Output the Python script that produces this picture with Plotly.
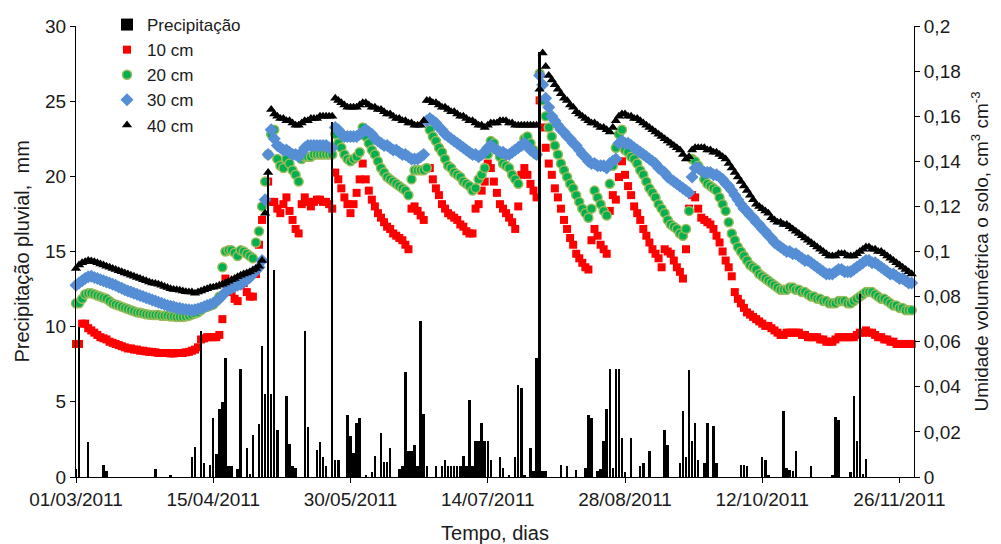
import pandas as pd
import plotly.graph_objects as go

start_date = "2011-03-01"
n_days = 275

precip = [
    0.5, 10.0, 0, 0, 2.3, 0, 0, 0, 0, 0.8,
    0.4, 0, 0, 0, 0, 0, 0, 0, 0, 0,
    0, 0, 0, 0, 0, 0, 0.5, 0, 0, 0,
    0, 0.15, 0, 0, 0, 0, 0, 0, 1.3, 2.0,
    0, 9.7, 0.9, 0, 0.8, 3.9, 1.5, 4.5, 5.0, 7.9,
    0.7, 0.7, 0, 0.5, 7.2, 0, 1.9, 0.2, 2.8, 0,
    3.5, 8.7, 5.5, 20.3, 5.5, 13.8, 3.1, 0, 0, 5.4,
    2.2, 0.7, 0.6, 0, 0, 9.7, 3.3, 0, 0, 1.8,
    2.3, 1.3, 0.7, 0, 23.6, 1.1, 1.1, 0, 0, 4.1,
    2.7, 1.6, 3.6, 3.9, 0, 0.15, 0, 0.35, 1.4, 0,
    2.9, 1.0, 1.0, 1.9, 0, 0, 0.5, 0.7, 7.0, 1.7,
    1.7, 2.1, 0.7, 10.4, 4.2, 0.7, 0, 0, 0.7, 0,
    0.7, 1.1, 0.7, 0.7, 0.7, 0.7, 0.7, 1.4, 0.7, 5.1,
    0.7, 2.4, 2.4, 3.6, 2.4, 2.4, 1.1, 0, 0, 1.3,
    0.6, 0, 0.15, 0, 1.3, 6.1, 5.9, 0.15, 0, 1.9,
    0.4, 7.9, 28.3, 0.4, 0.4, 0, 0, 0, 0, 0.8,
    0, 0.7, 0, 0, 0.45, 0, 0, 0.6, 4.1, 3.9,
    0, 0.4, 0.5, 2.4, 4.5, 7.2, 0.6, 7.2, 7.2, 2.6,
    0.3, 0, 2.6, 0, 0, 0.7, 0.9, 0, 1.7, 0,
    0, 0, 0, 3.1, 2.1, 0, 0, 0, 0.9, 4.4,
    1.3, 7.1, 2.4, 3.6, 1.1, 0, 0.9, 3.6, 0, 3.4,
    0.9, 0, 0, 0, 0, 0, 0, 0, 0.8, 0.8,
    0.7, 0, 0, 0, 0, 1.3, 1.1, 0.15, 0, 0,
    0, 0, 4.4, 0.6, 0.45, 0.4, 1.7, 0, 0, 0,
    0, 0.7, 0, 0, 0, 0, 0, 0, 0.15, 4.0,
    3.8, 0, 0, 0, 0.3, 5.4, 2.4, 12.2, 0.2, 1.2,
    0, 0, 0, 0, 0, 0, 0, 0, 0, 0,
    0, 0, 0, 0, 0,
]

cm10 = [
    0.059, 0.059, 0.068, 0.068, 0.066, 0.065, 0.064, 0.063, 0.062, 0.0615,
    0.061, 0.060, 0.0595, 0.059, 0.0585, 0.058, 0.0575, 0.057, 0.057, 0.0565,
    0.0565, 0.056, 0.056, 0.0557, 0.0555, 0.0555, 0.0553, 0.055, 0.055, 0.055,
    0.055, 0.0548, 0.0548, 0.055, 0.055, 0.055, 0.0553, 0.0555, 0.056, 0.0565,
    0.0575, 0.061, 0.0615, 0.062, 0.062, 0.062, 0.062, 0.063, 0.070, 0.088,
    0.086, 0.082, 0.079, 0.078, 0.085, 0.086, 0.082, 0.080, 0.080, 0.090,
    0.103, 0.114, 0.122, 0.131, 0.122, 0.122, 0.119, 0.117, 0.121, 0.124,
    0.118, 0.114, 0.110, 0.108, 0.121, 0.124, 0.122, 0.120, 0.122, 0.123,
    0.123, 0.122, 0.122, 0.121, 0.119, 0.135, 0.132, 0.128, 0.124, 0.121,
    0.117, 0.121, 0.126, 0.132, 0.139, 0.132, 0.127, 0.123, 0.120, 0.117,
    0.115, 0.113, 0.111, 0.110, 0.108, 0.107, 0.106, 0.105, 0.103, 0.101,
    0.119, 0.120, 0.118, 0.116, 0.114, 0.137, 0.137, 0.132, 0.128, 0.125,
    0.121, 0.119, 0.117, 0.116, 0.115, 0.114, 0.112, 0.111, 0.109, 0.108,
    0.108, 0.119, 0.121, 0.127, 0.131, 0.139, 0.137, 0.131, 0.126, 0.121,
    0.119, 0.117, 0.115, 0.113, 0.110, 0.120, 0.134, 0.137, 0.134, 0.130,
    0.127, 0.124, 0.167, 0.155, 0.146, 0.139, 0.134, 0.128, 0.124, 0.119,
    0.114, 0.110, 0.106, 0.103, 0.099, 0.097, 0.095, 0.093, 0.092, 0.105,
    0.110, 0.107, 0.103, 0.101, 0.099, 0.118, 0.125, 0.123, 0.133, 0.140,
    0.134, 0.129, 0.125, 0.120, 0.117, 0.114, 0.110, 0.107, 0.104, 0.101,
    0.099, 0.097, 0.093, 0.101, 0.100, 0.099, 0.096, 0.093, 0.091, 0.088,
    0.101, 0.119, 0.125, 0.124, 0.119, 0.115, 0.114, 0.113, 0.112, 0.110,
    0.107, 0.104, 0.100, 0.096, 0.093, 0.089, 0.082, 0.079, 0.077, 0.075,
    0.073, 0.072, 0.071, 0.070, 0.069, 0.068, 0.067, 0.067, 0.066, 0.065,
    0.064, 0.063, 0.063, 0.064, 0.064, 0.064, 0.064, 0.064, 0.063, 0.063,
    0.062, 0.062, 0.062, 0.062, 0.061, 0.061, 0.060, 0.060, 0.060, 0.061,
    0.062, 0.062, 0.062, 0.062, 0.062, 0.062, 0.063, 0.064, 0.064, 0.065,
    0.064, 0.064, 0.063, 0.062, 0.062, 0.061, 0.061, 0.060, 0.060, 0.059,
    0.059, 0.059, 0.059, 0.059, 0.059,
]

cm20 = [
    0.077, 0.077, 0.079, 0.081, 0.0815, 0.0815, 0.081, 0.0805, 0.080, 0.0795,
    0.079, 0.078, 0.077, 0.0765, 0.076, 0.0755, 0.075, 0.0745, 0.074, 0.0735,
    0.073, 0.0728, 0.0725, 0.0722, 0.072, 0.0718, 0.0718, 0.0718, 0.0715, 0.0715,
    0.0715, 0.0712, 0.0712, 0.071, 0.071, 0.071, 0.0712, 0.0715, 0.072, 0.0725,
    0.073, 0.074, 0.075, 0.0755, 0.076, 0.0765, 0.078, 0.080, 0.093, 0.100,
    0.1005, 0.1005, 0.0995, 0.098, 0.1005, 0.100, 0.099, 0.098, 0.097, 0.104,
    0.109, 0.120, 0.131, 0.143, 0.152, 0.154, 0.141, 0.138, 0.137, 0.141,
    0.139, 0.136, 0.134, 0.131, 0.141, 0.142, 0.142, 0.142, 0.143, 0.143,
    0.143, 0.143, 0.143, 0.143, 0.143, 0.152, 0.148, 0.146, 0.143, 0.141,
    0.140, 0.141, 0.142, 0.144, 0.155, 0.151, 0.148, 0.145, 0.143, 0.140,
    0.137, 0.135, 0.133, 0.132, 0.131, 0.130, 0.129, 0.128, 0.127, 0.125,
    0.132, 0.136, 0.136, 0.136, 0.136, 0.137, 0.154, 0.151, 0.149, 0.146,
    0.144, 0.141, 0.138, 0.137, 0.135, 0.134, 0.133, 0.131, 0.130, 0.129,
    0.127, 0.128, 0.132, 0.134, 0.137, 0.143, 0.149, 0.148, 0.145, 0.142,
    0.139, 0.138, 0.137, 0.134, 0.132, 0.130, 0.147, 0.150, 0.151, 0.148,
    0.145, 0.143, 0.179, 0.167, 0.160, 0.155, 0.151, 0.147, 0.143, 0.139,
    0.136, 0.133, 0.130, 0.128, 0.125, 0.122, 0.119, 0.117, 0.115, 0.119,
    0.127, 0.124, 0.121, 0.118, 0.116, 0.130, 0.138, 0.146, 0.152, 0.154,
    0.145, 0.144, 0.142, 0.141, 0.139, 0.136, 0.134, 0.131, 0.128, 0.126,
    0.124, 0.121, 0.119, 0.117, 0.114, 0.112, 0.111, 0.110, 0.108, 0.107,
    0.110, 0.118, 0.141, 0.140, 0.138, 0.136, 0.132, 0.130, 0.129, 0.128,
    0.127, 0.124, 0.121, 0.118, 0.113, 0.108, 0.105, 0.102, 0.100, 0.098,
    0.096, 0.094, 0.093, 0.092, 0.090, 0.089, 0.088, 0.087, 0.086, 0.085,
    0.084, 0.083, 0.083, 0.083, 0.084, 0.084, 0.083, 0.083, 0.082, 0.082,
    0.081, 0.080, 0.080, 0.079, 0.079, 0.078, 0.078, 0.077, 0.077, 0.077,
    0.078, 0.078, 0.078, 0.077, 0.077, 0.078, 0.079, 0.080, 0.081, 0.082,
    0.082, 0.082, 0.081, 0.080, 0.079, 0.079, 0.078, 0.077, 0.076, 0.076,
    0.075, 0.075, 0.074, 0.074, 0.074,
]

cm30 = [
    0.085, 0.086, 0.087, 0.088, 0.0888, 0.089, 0.0885, 0.088, 0.0875, 0.087,
    0.0865, 0.086, 0.0855, 0.085, 0.0843, 0.0837, 0.083, 0.0825, 0.082, 0.0815,
    0.081, 0.0805, 0.080, 0.0795, 0.079, 0.0785, 0.078, 0.0775, 0.077, 0.0765,
    0.076, 0.0757, 0.0755, 0.075, 0.0748, 0.0745, 0.0743, 0.0742, 0.074, 0.0742,
    0.0745, 0.075, 0.0755, 0.076, 0.0765, 0.077, 0.078, 0.079, 0.0805, 0.082,
    0.083, 0.0837, 0.0845, 0.085, 0.0855, 0.0865, 0.0875, 0.0885, 0.090, 0.0915,
    0.093, 0.096, 0.123, 0.143, 0.154, 0.150, 0.147, 0.146, 0.145, 0.145,
    0.144, 0.143, 0.143, 0.142, 0.144, 0.146, 0.147, 0.147, 0.147, 0.147,
    0.147, 0.147, 0.147, 0.146, 0.146, 0.155, 0.154, 0.152, 0.151, 0.151,
    0.151, 0.151, 0.151, 0.152, 0.153, 0.154, 0.153, 0.152, 0.150, 0.149,
    0.148, 0.147, 0.147, 0.146, 0.145, 0.145, 0.144, 0.143, 0.143, 0.142,
    0.141, 0.141, 0.141, 0.142, 0.143, 0.158, 0.159, 0.158, 0.157, 0.155,
    0.154, 0.152, 0.151, 0.150, 0.149, 0.148, 0.147, 0.146, 0.145, 0.144,
    0.143, 0.143, 0.142, 0.143, 0.144, 0.146, 0.147, 0.146, 0.145, 0.144,
    0.144, 0.143, 0.143, 0.144, 0.145, 0.146, 0.147, 0.148, 0.147, 0.145,
    0.144, 0.143, 0.178, 0.174, 0.168, 0.164, 0.160, 0.158, 0.156, 0.154,
    0.153, 0.151, 0.150, 0.148, 0.147, 0.145, 0.143, 0.142, 0.140, 0.139,
    0.139, 0.138, 0.138, 0.138, 0.137, 0.139, 0.140, 0.141, 0.148, 0.149,
    0.148, 0.148, 0.147, 0.146, 0.145, 0.144, 0.143, 0.142, 0.141, 0.140,
    0.139, 0.137, 0.136, 0.135, 0.133, 0.132, 0.131, 0.130, 0.129, 0.128,
    0.127, 0.126, 0.133, 0.137, 0.137, 0.136, 0.135, 0.135, 0.135, 0.134,
    0.134, 0.133, 0.132, 0.130, 0.129, 0.127, 0.125, 0.123, 0.121, 0.119,
    0.118, 0.116, 0.115, 0.113, 0.112, 0.110, 0.109, 0.107, 0.106, 0.104,
    0.103, 0.102, 0.101, 0.100, 0.100, 0.099, 0.099, 0.098, 0.097, 0.096,
    0.096, 0.095, 0.094, 0.093, 0.092, 0.091, 0.090, 0.090, 0.090, 0.091,
    0.092, 0.092, 0.091, 0.091, 0.091, 0.092, 0.093, 0.094, 0.095, 0.096,
    0.096, 0.095, 0.095, 0.094, 0.093, 0.092, 0.091, 0.090, 0.090, 0.089,
    0.088, 0.088, 0.087, 0.086, 0.086,
]

cm40 = [
    0.0925, 0.094, 0.095, 0.0955, 0.096, 0.0958, 0.0955, 0.095, 0.0945, 0.094,
    0.0935, 0.093, 0.0925, 0.092, 0.0915, 0.091, 0.0905, 0.090, 0.0895, 0.089,
    0.0885, 0.088, 0.0875, 0.087, 0.0865, 0.086, 0.0858, 0.0855, 0.085, 0.0845,
    0.084, 0.0835, 0.0832, 0.083, 0.0828, 0.0825, 0.0822, 0.082, 0.082, 0.0815,
    0.082, 0.0825, 0.083, 0.0835, 0.084, 0.0842, 0.0845, 0.085, 0.0855, 0.086,
    0.0868, 0.0875, 0.088, 0.0888, 0.0895, 0.090, 0.0905, 0.091, 0.0918, 0.0925,
    0.0935, 0.096, 0.117, 0.135, 0.163, 0.161, 0.160, 0.159, 0.159, 0.158,
    0.158, 0.157, 0.156, 0.156, 0.157, 0.158, 0.158, 0.159, 0.159, 0.159,
    0.160, 0.160, 0.160, 0.160, 0.160, 0.168, 0.167, 0.166, 0.165, 0.164,
    0.164, 0.164, 0.164, 0.165, 0.166, 0.166, 0.165, 0.164, 0.164, 0.163,
    0.163, 0.162, 0.161, 0.161, 0.160, 0.159, 0.159, 0.158, 0.158, 0.157,
    0.157, 0.156, 0.156, 0.156, 0.158, 0.167, 0.167, 0.166, 0.166, 0.165,
    0.164, 0.164, 0.163, 0.162, 0.162, 0.161, 0.160, 0.160, 0.159, 0.158,
    0.158, 0.157, 0.156, 0.156, 0.155, 0.156, 0.157, 0.157, 0.157, 0.158,
    0.158, 0.158, 0.157, 0.157, 0.156, 0.156, 0.156, 0.156, 0.156, 0.156,
    0.156, 0.156, 0.172, 0.188, 0.182, 0.178, 0.176, 0.174, 0.172, 0.170,
    0.168, 0.167, 0.165, 0.164, 0.162, 0.161, 0.160, 0.159, 0.158, 0.157,
    0.157, 0.156, 0.155, 0.155, 0.154, 0.153, 0.155, 0.158, 0.160, 0.161,
    0.161, 0.160, 0.160, 0.159, 0.159, 0.158, 0.157, 0.156, 0.155, 0.154,
    0.153, 0.152, 0.151, 0.150, 0.149, 0.148, 0.147, 0.146, 0.145, 0.143,
    0.141, 0.142, 0.145, 0.146, 0.146, 0.146, 0.146, 0.145, 0.145, 0.144,
    0.144, 0.143, 0.142, 0.141, 0.139, 0.137, 0.135, 0.133, 0.131, 0.129,
    0.127, 0.125, 0.123, 0.121, 0.120, 0.119, 0.118, 0.117, 0.115, 0.114,
    0.113, 0.113, 0.112, 0.112, 0.111, 0.110, 0.109, 0.108, 0.107, 0.106,
    0.105, 0.104, 0.103, 0.102, 0.101, 0.100, 0.099, 0.098, 0.098, 0.098,
    0.099, 0.099, 0.099, 0.098, 0.098, 0.098, 0.099, 0.100, 0.101, 0.102,
    0.102, 0.101, 0.101, 0.100, 0.100, 0.099, 0.098, 0.097, 0.096, 0.095,
    0.094, 0.093, 0.092, 0.091, 0.090,
]

x_tick_dates = ["2011-03-01", "2011-04-15", "2011-05-30", "2011-07-14",
                "2011-08-28", "2011-10-12", "2011-11-26"]
x_tick_labels = ["01/03/2011", "15/04/2011", "30/05/2011", "14/07/2011",
                 "28/08/2011", "12/10/2011", "26/11/2011"]
right_tick_vals = [0, 0.02, 0.04, 0.06, 0.08, 0.1, 0.12, 0.14, 0.16, 0.18, 0.2]
right_tick_labels = ["0", "0,02", "0,04", "0,06", "0,08", "0,1", "0,12",
                     "0,14", "0,16", "0,18", "0,2"]
left_tick_vals = [0, 5, 10, 15, 20, 25, 30]

dates = pd.date_range(start_date, periods=n_days, freq="D")

FONT = "Liberation Sans, Arial, sans-serif"
TXT = "#1a1a1a"

fig = go.Figure()

fig.add_trace(go.Bar(
    x=dates, y=precip, name="Precipitação", yaxis="y2",
    marker=dict(color="black", line=dict(width=0)),
    width=0.8 * 86400000, legendgroup="a",
))

fig.add_trace(go.Scatter(
    x=dates, y=cm10, name="10 cm", mode="markers", yaxis="y",
    marker=dict(symbol="square", size=8, color="#FF0000"),
    cliponaxis=False, legendgroup="b",
))
fig.add_trace(go.Scatter(
    x=dates, y=cm20, name="20 cm", mode="markers", yaxis="y",
    marker=dict(symbol="circle", size=9, color="#00B050",
                line=dict(color="#9BBB59", width=1.5)),
    cliponaxis=False, legendgroup="c",
))
fig.add_trace(go.Scatter(
    x=dates, y=cm30, name="30 cm", mode="markers", yaxis="y",
    marker=dict(symbol="diamond", size=10, color="#558ED5"),
    cliponaxis=False, legendgroup="d",
))
fig.add_trace(go.Scatter(
    x=dates, y=cm40, name="40 cm", mode="markers", yaxis="y",
    marker=dict(symbol="triangle-up", size=9, color="black"),
    cliponaxis=False, legendgroup="e",
))

fig.update_layout(
    width=1001, height=544,
    margin=dict(l=76, r=87, t=26, b=67, autoexpand=False),
    paper_bgcolor="white", plot_bgcolor="white",
    font=dict(family=FONT, size=19, color=TXT),
    showlegend=True,
    bargap=0,
    legend=dict(
        xref="container", yref="container",
        x=107 / 1001, y=1 - 7 / 544, xanchor="left", yanchor="top",
        font=dict(family=FONT, size=17, color=TXT),
        bgcolor="rgba(0,0,0,0)", traceorder="grouped", tracegroupgap=0,
        itemwidth=30,
    ),
    xaxis=dict(
        type="date", automargin=False,
        range=["2011-03-01", "2011-11-30 18:00"],
        tickvals=x_tick_dates, ticktext=x_tick_labels,
        ticks="outside", ticklen=5, tickcolor="black",
        showline=True, linecolor="black", linewidth=1,
        showgrid=False, zeroline=False,
        tickfont=dict(family=FONT, size=19, color=TXT),
        title=dict(text="Tempo, dias", font=dict(family=FONT, size=20, color=TXT),
                   standoff=18),
    ),
    yaxis=dict(
        side="right", range=[0, 0.2], automargin=False,
        tickvals=right_tick_vals, ticktext=right_tick_labels,
        ticks="outside", ticklen=5, tickcolor="black",
        showline=True, linecolor="black", linewidth=1,
        showgrid=False, zeroline=False,
        tickfont=dict(family=FONT, size=19, color=TXT),
        title=dict(text="Umidade volumétrica o solo, cm<sup>3</sup> cm<sup>-3</sup>",
                   font=dict(family=FONT, size=19, color=TXT), standoff=14),
    ),
    yaxis2=dict(
        overlaying="y", side="left", range=[0, 30], automargin=False,
        tickvals=left_tick_vals,
        ticks="outside", ticklen=5, tickcolor="black",
        showline=True, linecolor="black", linewidth=1,
        showgrid=False, zeroline=False,
        tickfont=dict(family=FONT, size=19, color=TXT),
    ),
    annotations=[dict(
        text="Precipitação pluvial,  mm", textangle=-90,
        xref="paper", yref="paper", x=-55 / 838, y=0.5,
        xanchor="center", yanchor="middle", showarrow=False,
        font=dict(family=FONT, size=20, color=TXT),
    )],
)

fig.write_html("out.html", config={"displayModeBar": False},
               post_script="document.body.style.margin='0px';")
